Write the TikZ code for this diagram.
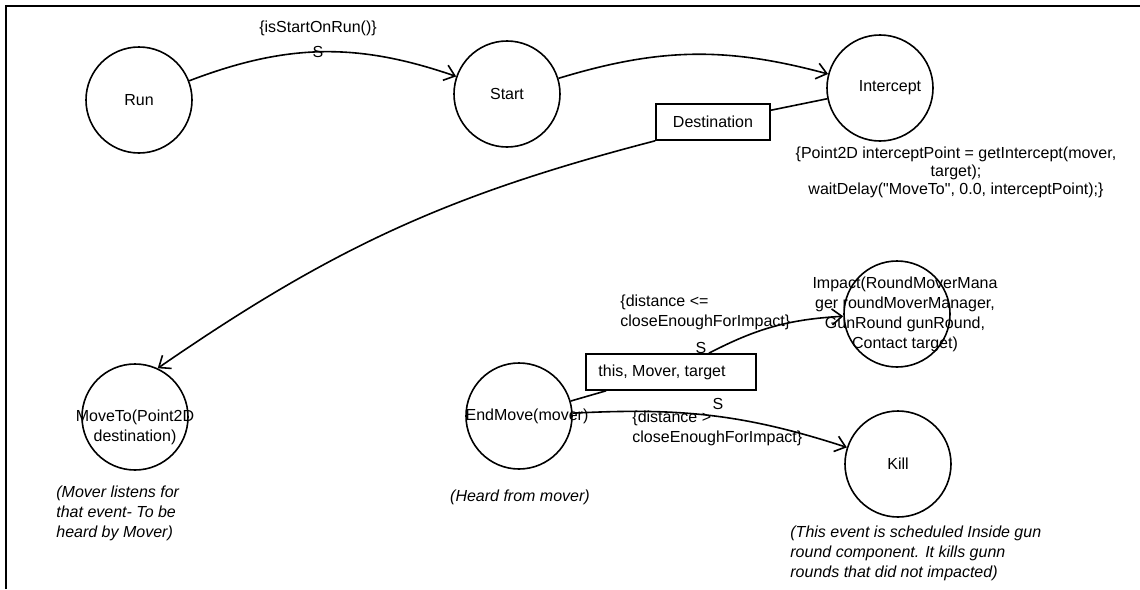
\documentclass[tikz,border=0pt]{standalone}
\usepackage{fontspec}
\setmainfont{Liberation Sans}
\newfontfamily\plainquote{Liberation Sans}
\usetikzlibrary{arrows.meta}
\tikzstyle{state}=[circle,
	thick,
	minimum size=53pt,
	inner sep=0pt,
	draw=black]
\tikzstyle{param}=[rectangle,
	thick,
	minimum height=18pt,
	draw=black,
	fill=white]
\tikzstyle{guard}=[align=left,
	anchor=west,
	inner sep=0pt]
\tikzstyle{note}=[align=left,
	anchor=west,
	inner sep=0pt,
	font=\fontsize{8pt}{10pt}\selectfont\itshape]
\tikzstyle{trans}=[thick,
	-{Straight Barb[length=5pt,width=8pt]}]
\newcommand{\dq}{{\plainquote"}}

\begin{document}
\begin{tikzpicture}[x=0.5pt,y=-0.5pt,font=\fontsize{8pt}{10pt}\selectfont]
					\useasboundingbox (0,0) rectangle (1140,589);
					\draw[line width=1pt] (6,589) -- (6,6) -- (1140,6);

					\node (run) [state] at (139,100) {Run};
					\node (start) [state] at (507,94) {Start};
					\draw[trans] (run) to[bend left=20] (start);
					\node (startguard) at (318,28) {\{isStartOnRun()\}};
					\node (starts) at (318,52) {S};

					\node (intercept) [state] at (880,88) {\hspace*{10pt}Intercept};
					\draw[trans] (start) to[bend left=16] (intercept);
					\node (interceptnote) [align=center, font=\fontsize{8pt}{9pt}\selectfont] at (956,172) {\{Point2D interceptPoint = getIntercept(mover,\\target);\hspace*{71pt}\\waitDelay(\dq MoveTo\dq, 0.0, interceptPoint);\}};

					\node (dest) [param, minimum width=57pt] at (713,122) {Destination};
					\node (moveto) [state, label={[align=center, yshift=-5pt]center:MoveTo(Point2D\\destination)}] at (135,417) {};
					\draw[thick] (intercept) -- (dest);
					\draw[trans] (dest.south west) to[bend right=10] (moveto.65);
					\node (movetonote) [note] at (56,513) {(Mover listens for\\that event- To be\\heard by Mover)};

					\node (endmove) [state, label={[xshift=4pt]center:EndMove(mover)}] at (519,416) {};
					\node (endmovenote) [note, anchor=center] at (520,497) {(Heard from mover)};
					\node (params) [param, minimum width=85pt] at (671,372) {this, Mover, target\hspace*{9pt}};
					\draw[thick] (endmove) -- (params);

					\node (impact) [state, label={[align=center, xshift=4pt]center:Impact(RoundMoverMana\\ger roundMoverManager,\\GunRound gunRound,\\Contact target)}] at (897,314) {};
					\draw[trans] (params) to[bend left=12] (impact);
					\node (impactguard) [guard] at (620,312) {\{distance <=\\closeEnoughForImpact\}};
					\node (impacts) at (701,348) {S};

					\node (kill) [state] at (898,464) {Kill};
					\draw[trans] (endmove) to[out=3, in=162] (kill);
					\node (killguard) [guard] at (632,428) {\{distance >\\closeEnoughForImpact\}};
					\node (kills) at (718,404) {S};
					\node (killnote) [note] at (790,553) {(This event is scheduled Inside gun\\round component. It kills gunn\\rounds that did not impacted)};
				\end{tikzpicture}
\end{document}
